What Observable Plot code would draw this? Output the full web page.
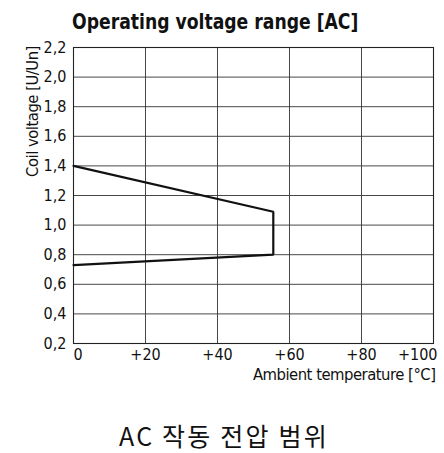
<!DOCTYPE html>
<html>
<head>
<meta charset="utf-8">
<script src="https://cdn.jsdelivr.net/npm/d3@7"></script>
<script src="https://cdn.jsdelivr.net/npm/@observablehq/plot@0.6"></script>
<style>
  html, body { margin: 0; padding: 0; background: #fff; }
  body { width: 444px; }
  #title { font-family: "DejaVu Sans Condensed", "DejaVu Sans", sans-serif; font-weight: bold; font-size: 22px; color: #111; height: 40px; line-height: 44px; margin-left: 72px; white-space: nowrap; transform: scaleX(0.87); transform-origin: 0 50%; }
  #caption { font-family: "Noto Sans CJK KR", sans-serif; font-size: 25px; letter-spacing: 2.2px; color: #111; text-align: center; margin-top: 17px; padding-left: 4px; }
  svg { display: block; overflow: visible; }
</style>
</head>
<body>
<div id="title">Operating voltage range [AC]</div>
<div id="chart"></div>
<div id="caption">AC 작동 전압 범위</div>
<script>
// Data
const temperature = [0, 55.5, 55.5, 0];          // °C
const coilVoltage = [1.40, 1.09, 0.80, 0.73];    // U/Un
const xTicks = [0, 20, 40, 60, 80, 100];
const xTickLabels = ["0", "+20", "+40", "+60", "+80", "+100"];
const yTicks = [0.2, 0.4, 0.6, 0.8, 1.0, 1.2, 1.4, 1.6, 1.8, 2.0, 2.2];

const data = temperature.map((t, i) => ({t, v: coilVoltage[i]}));
const fmtY = d => d.toFixed(1).replace(".", ",");
const fmtX = d => xTickLabels[xTicks.indexOf(d)];
const font = "'DejaVu Sans Condensed', 'DejaVu Sans', sans-serif";

const chart = Plot.plot({
  width: 444,
  height: 360,
  marginTop: 7,
  marginBottom: 57,
  marginLeft: 73,
  marginRight: 11,
  style: {fontFamily: font, fontSize: "16px", color: "#111", background: "#fff", overflow: "visible"},
  x: {domain: [0, 100]},
  y: {domain: [0.2, 2.2]},
  marks: [
    Plot.gridX(xTicks, {stroke: "#333", strokeOpacity: 1, strokeWidth: 0.9}),
    Plot.gridY(yTicks, {stroke: "#333", strokeOpacity: 1, strokeWidth: 0.9}),
    Plot.frame({stroke: "#222", strokeWidth: 1.1}),
    Plot.axisY(yTicks, {tickSize: 0, tickPadding: 7, tickFormat: fmtY, fontSize: 16, label: null}),
    Plot.axisX([0], {tickSize: 0, tickPadding: 5, tickFormat: fmtX, textAnchor: "start", dx: 0, fontSize: 16, label: null}),
    Plot.axisX([20, 40, 60, 80], {tickSize: 0, tickPadding: 5, tickFormat: fmtX, fontSize: 16, label: null}),
    Plot.axisX([100], {tickSize: 0, tickPadding: 5, tickFormat: fmtX, textAnchor: "end", dx: 4, fontSize: 16, label: null}),
    Plot.text(["Ambient temperature [°C]"], {frameAnchor: "bottom-right", dx: 2, dy: 25, fontSize: 16.5, textAnchor: "end", lineAnchor: "top"}),
    Plot.text(["Coil voltage [U/Un]"], {frameAnchor: "top-left", dx: -47, dy: 64, rotate: -90, textAnchor: "middle", fontSize: 16.5}),
    Plot.line(data, {x: "t", y: "v", stroke: "#111", strokeWidth: 2.2, strokeLinejoin: "miter"})
  ]
});
// condense axis titles' letter spacing slightly to mimic the narrow reference face
chart.querySelectorAll("text").forEach(t => {
  if (/Ambient|Coil/.test(t.textContent)) t.setAttribute("letter-spacing", "-0.5");
});
document.getElementById("chart").appendChild(chart);
</script>
</body>
</html>
